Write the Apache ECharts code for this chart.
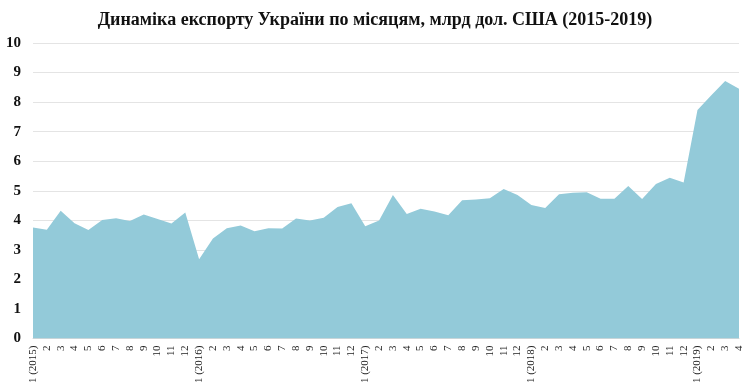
<!DOCTYPE html>
<html>
<head>
<meta charset="utf-8">
<script src="https://cdn.jsdelivr.net/npm/echarts@6/dist/echarts.min.js"></script>
<style>
  html, body { margin: 0; padding: 0; background: #fff; }
  #chart { width: 750px; height: 388px; }
</style>
</head>
<body>
<div id="chart"></div>
<script>
// months, with the year shown on each January
const years = [2015, 2016, 2017, 2018, 2019];
const months = [];
years.forEach(y => {
  const n = y === 2019 ? 4 : 12;
  for (let m = 1; m <= n; m++) months.push(m === 1 ? `1 (${y})` : String(m));
});

// export, bn USD
const exports2015 = [3.76, 3.68, 4.32, 3.90, 3.67, 4.01, 4.07, 3.98, 4.20, 4.04, 3.89, 4.26];
const exports2016 = [2.68, 3.38, 3.73, 3.82, 3.63, 3.73, 3.72, 4.06, 3.99, 4.09, 4.45, 4.58];
const exports2017 = [3.80, 3.99, 4.86, 4.21, 4.39, 4.30, 4.17, 4.68, 4.70, 4.75, 5.06, 4.86];
const exports2018 = [4.52, 4.42, 4.88, 4.93, 4.95, 4.73, 4.73, 5.16, 4.72, 5.23, 5.44, 5.28];
const exports2019 = [7.73, 8.23, 8.71, 8.45];
const values = [...exports2015, ...exports2016, ...exports2017, ...exports2018, ...exports2019];

const chart = echarts.init(document.getElementById('chart'), null, { renderer: 'canvas' });
chart.setOption({
  backgroundColor: '#fff',
  animation: false,
  title: {
    text: 'Динаміка експорту України по місяцям, млрд дол. США (2015-2019)',
    left: 'center', top: 6,
    textStyle: { fontFamily: 'Liberation Serif', fontWeight: 'bold', fontSize: 18, color: '#111' }
  },
  grid: { left: 33, right: 11, top: 43, bottom: 49.5 },
  xAxis: {
    type: 'category',
    data: months,
    boundaryGap: false,
    axisLine: { show: true, lineStyle: { color: '#d9d9d9' } },
    axisTick: { show: false },
    axisLabel: {
      interval: 0, rotate: 90, margin: 7,
      fontFamily: 'Liberation Serif', fontSize: 11, color: '#222'
    }
  },
  yAxis: {
    type: 'value',
    min: 0, max: 10, interval: 1,
    axisLine: { show: false },
    axisTick: { show: false },
    splitLine: { lineStyle: { color: '#e4e4e4' } },
    axisLabel: {
      margin: 12,
      fontFamily: 'Liberation Serif', fontWeight: 'bold', fontSize: 15, color: '#111'
    }
  },
  series: [{
    type: 'line',
    data: values,
    showSymbol: false,
    lineStyle: { width: 0 },
    areaStyle: { color: '#93cad9', opacity: 1 }
  }]
});
</script>
</body>
</html>
